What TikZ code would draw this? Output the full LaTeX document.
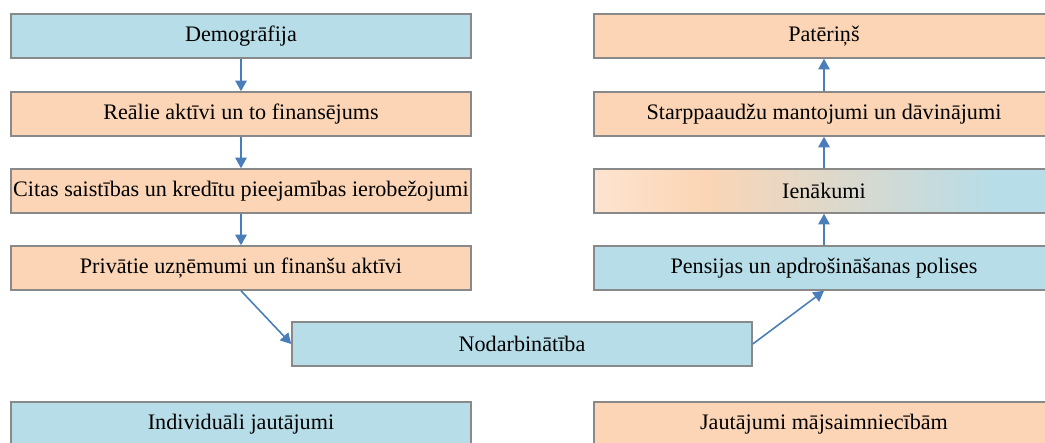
\documentclass[tikz,border=0pt]{standalone}
\usepackage{fontspec}
\setmainfont{Liberation Serif}
\usetikzlibrary{arrows.meta}
\definecolor{boxblue}{RGB}{183,221,232}
\definecolor{boxpeach}{RGB}{251,213,181}
\definecolor{peachlight}{RGB}{253,228,208}
\definecolor{boxline}{RGB}{137,137,137}
\definecolor{arrowblue}{RGB}{74,126,187}
% path box maps to 25bp..75bp of the shading
\pgfdeclarehorizontalshading{incomeshade}{100bp}{color(0bp)=(peachlight); color(25bp)=(peachlight); color(37bp)=(boxpeach); color(69bp)=(boxblue); color(100bp)=(boxblue)}
\tikzset{
  % plain box of the chart
  chartbox/.style={
    draw=boxline,line width=0.9pt,
    minimum width=9.2cm,minimum height=0.88cm,
    inner sep=0pt,font=\fontsize{12.6}{14}\selectfont
  },
  bluebox/.style={chartbox,fill=boxblue},
  peachbox/.style={chartbox,fill=boxpeach},
  mixbox/.style={chartbox,shading=incomeshade},
  % connector between boxes
  flow/.style={draw=arrowblue,line width=0.9pt,-{Triangle[width=6.5pt,length=6pt]}},
}

\begin{document}
\begin{tikzpicture}[x=0.02cm,y=-0.02cm]
\useasboundingbox (0,0) rectangle (1045,443);
% left column
\node[bluebox] (demo) at (241,36) {Demogrāfija};
\node[peachbox] (realie) at (241,114) {Reālie aktīvi un to finansējums};
\node[peachbox] (citas) at (241,191) {Citas saistības un kredītu pieejamības ierobežojumi};
\node[peachbox] (privatie) at (241,268) {Privātie uzņēmumi un finanšu aktīvi};
% middle
\node[bluebox] (nodarb) at (522,344) {Nodarbinātība};
% right column
\node[peachbox] (pateri) at (824,36) {Patēriņš};
\node[peachbox] (starp) at (824,114) {Starppaaudžu mantojumi un dāvinājumi};
\node[mixbox] (ienak) at (824,191) {Ienākumi};
\node[bluebox] (pensij) at (824,268) {Pensijas un apdrošināšanas polises};
% bottom row
\node[bluebox] (indiv) at (241,424) {Individuāli jautājumi};
\node[peachbox] (jaut) at (824,424) {Jautājumi mājsaimniecībām};

\path[flow] (demo) -- (realie);
\path[flow] (realie) -- (citas);
\path[flow] (citas) -- (privatie);
\path[flow] (privatie.south) -- (nodarb.west);
\path[flow] (nodarb.east) -- (pensij.south);
\path[flow] (pensij) -- (ienak);
\path[flow] (ienak) -- (starp);
\path[flow] (starp) -- (pateri);
\end{tikzpicture}
\end{document}
